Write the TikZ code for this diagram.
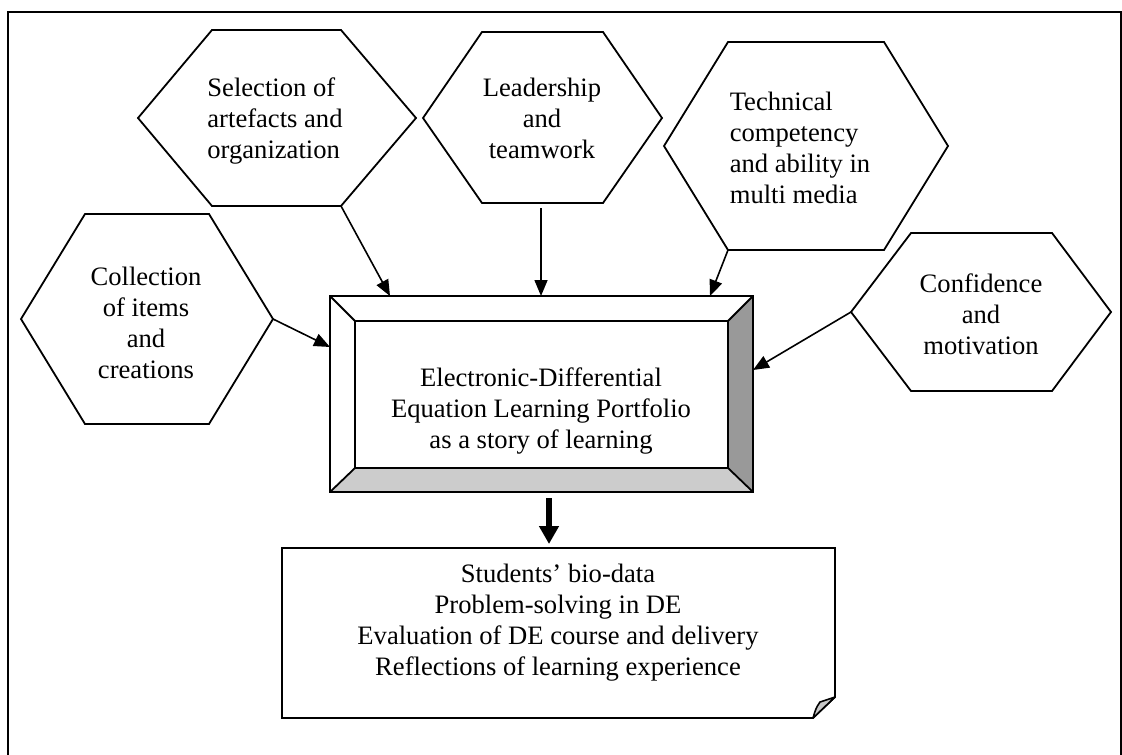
\documentclass[tikz,border=0pt]{standalone}
\usepackage{fontspec}
\setmainfont{Liberation Serif}
\usetikzlibrary{arrows.meta}
\tikzset{
  hexa/.style={draw, line width=0.9pt, line join=miter},
  boxline/.style={draw, line width=0.9pt, line join=miter},
  label text/.style={inner sep=0pt, font=\fontsize{13.3}{15.5}\selectfont, align=center},
  link/.style={-{Triangle[length=8pt,width=6.5pt]}, line width=0.8pt},
  bigdrop/.style={-{Triangle[length=9pt,width=9.5pt]}, line width=3.3pt},
}
\definecolor{bevelside}{HTML}{999999}
\definecolor{bevelfoot}{HTML}{CCCCCC}
\definecolor{curl}{HTML}{C8C8C8}

\begin{document}
\begin{tikzpicture}[x=0.5pt, y=-0.5pt]
\useasboundingbox (0,0) rectangle (1122,754);

% outer frame, runs off the page at the bottom
\draw[line width=1pt] (8,770) -- (8,12) -- (1121,12) -- (1121,770);

% Selection of artefacts
\draw[hexa] (138,118) -- (212,30) -- (341,30) -- (416,118) -- (341,206) coordinate (sel-br) -- (212,206) -- cycle;
\node[label text, align=left] (sel) at (275,121.5) {Selection of\\artefacts and\\organization};

% Leadership
\draw[hexa] (423,118) -- (482,32) -- (603,32) -- (662,118) -- (603,203) -- (482,203) -- cycle;
\coordinate (lead-s) at (541,208);
\node[label text] (lead) at (542,118.5) {Leadership\\and\\teamwork};

% Technical competency
\draw[hexa] (664,146) -- (728,42) -- (884,42) -- (948,146) -- (884,250) -- (728,250) coordinate (tech-bl) -- cycle;
\node[label text, align=left] (tech) at (800,147.5) {Technical\\competency\\and ability in\\multi media};

% Confidence
\draw[hexa] (851,312) coordinate (conf-l) -- (911,233) -- (1052,233) -- (1111,312) -- (1052,391) -- (911,391) -- cycle;
\node[label text] (conf) at (981,314.5) {Confidence\\and\\motivation};

% Collection of items
\draw[hexa] (21,319) -- (85,214) -- (209,214) -- (273,319) coordinate (coll-r) -- (209,424) -- (85,424) -- cycle;
\node[label text] (coll) at (146,322.5) {Collection\\of items\\and\\creations};

% bevelled portfolio box
\fill[bevelside] (753,296) -- (753,492) -- (728,468) -- (728,321) -- cycle;
\fill[bevelfoot] (330,492) -- (753,492) -- (728,468) -- (355,468) -- cycle;
\draw[boxline] (330,296) rectangle (753,492);
\draw[boxline] (355,321) rectangle (728,468);
\draw[line width=0.9pt] (330,296) -- (355,321) (753,296) -- (728,321)
  (330,492) -- (355,468) (753,492) -- (728,468);
\node[label text] (port) at (541,411.5) {Electronic-Differential\\Equation Learning Portfolio\\as a story of learning};
\coordinate (port-sel) at (390,296);
\coordinate (port-lead) at (541,296);
\coordinate (port-tech) at (710,296);
\coordinate (port-coll) at (330,347);
\coordinate (port-conf) at (753,370);
\coordinate (port-s) at (549,498);

% arrows into the box
\draw[link] (sel-br) -- (port-sel);
\draw[link] (lead-s) -- (port-lead);
\draw[link] (tech-bl) -- (port-tech);
\draw[link] (coll-r) -- (port-coll);
\draw[link] (conf-l) -- (port-conf);

% note with curled corner
\draw[boxline] (282,548) -- (835,548) -- (835,697) -- (813,718) -- (282,718) -- cycle;
\filldraw[fill=curl, line width=0.8pt, line join=round] (835,697) -- (820,702) .. controls (816,708) .. (813,718) -- cycle;
\coordinate (note-n) at (549,544);
\node[label text] (note) at (558,623) {Students' bio-data\\Problem-solving in DE\\Evaluation of DE course and delivery\\Reflections of learning experience};

% big arrow down
\draw[bigdrop] (port-s) -- (note-n);
\end{tikzpicture}
\end{document}
